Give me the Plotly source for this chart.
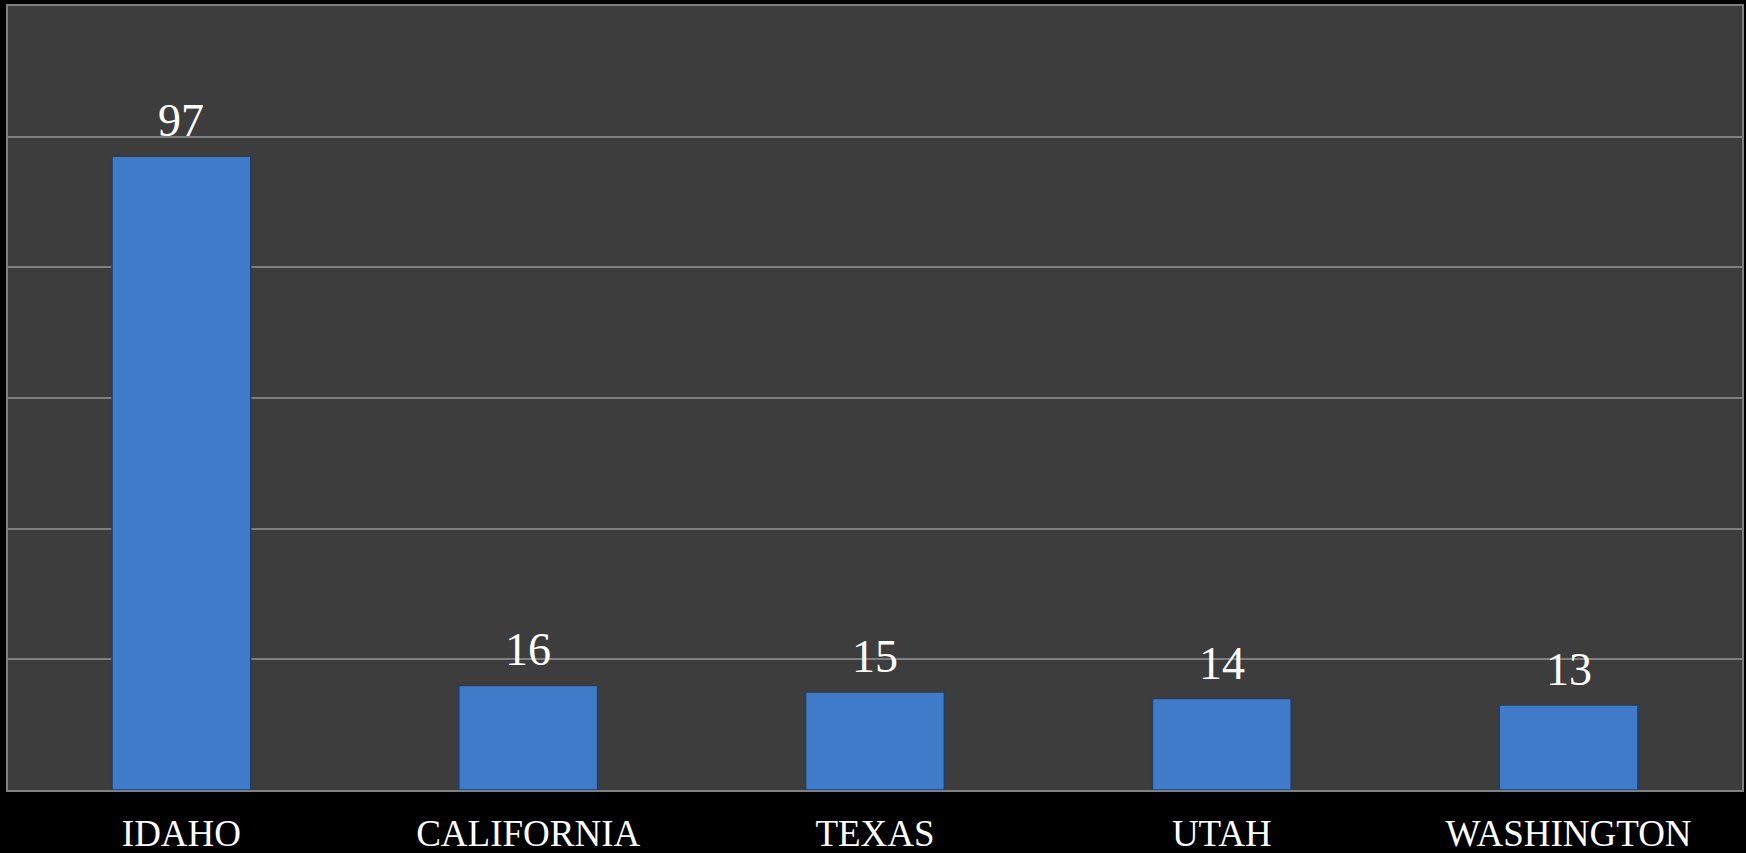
import plotly.graph_objects as go

states = ["IDAHO", "CALIFORNIA", "TEXAS", "UTAH", "WASHINGTON"]
counts = [97, 16, 15, 14, 13]
y_ticks = [0, 20, 40, 60, 80, 100, 120]

fig = go.Figure()
fig.add_trace(go.Bar(
    x=states, y=counts,
    width=0.4,
    marker=dict(color="#3f7bc9", line=dict(color="#1f3f6a", width=1.5)),
    hoverinfo="x+y",
))

for s, v in zip(states, counts):
    fig.add_annotation(
        x=s, y=v, text=str(v), showarrow=False,
        yanchor="bottom", yshift=8,
        font=dict(family="Liberation Serif, Times New Roman, serif", size=46, color="white"),
    )

fig.update_layout(
    width=1746, height=853,
    paper_bgcolor="black",
    plot_bgcolor="#3d3d3d",
    margin=dict(l=8, r=4, t=6, b=63, autoexpand=False),
    showlegend=False,
    bargap=0.6,
    xaxis=dict(
        automargin=False,
        showline=True, linecolor="#808080", linewidth=2, mirror=True,
        tickfont=dict(family="Liberation Serif, Times New Roman, serif", size=37, color="white"),
        ticks="", ticklabelstandoff=10,
        showgrid=False,
    ),
    yaxis=dict(
        automargin=False,
        range=[0, 120], tickvals=y_ticks,
        showticklabels=False,
        showgrid=True, gridcolor="#7f7f7f", gridwidth=2,
        zeroline=False,
        showline=True, linecolor="#808080", linewidth=2, mirror=True,
    ),
)

fig.write_html("out.html")
